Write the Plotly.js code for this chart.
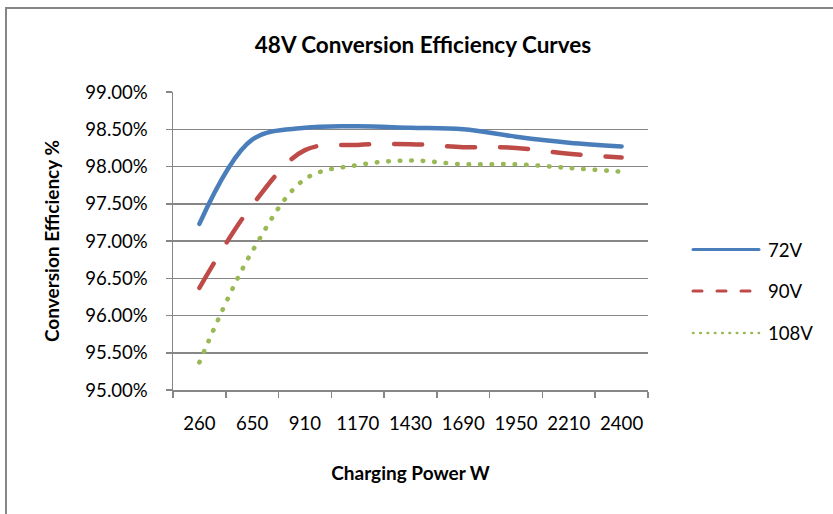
<!DOCTYPE html>
<html>
<head>
<meta charset="utf-8">
<script src="https://cdn.plot.ly/plotly-3.0.1.min.js"></script>
<style>
  html, body { margin: 0; padding: 0; background: #fff; }
  #chart { width: 833px; height: 514px; }
  .scatterlayer .js-line { stroke-linecap: round; }
  .shapelayer path { stroke-linecap: round; }
</style>
</head>
<body>
<div id="chart"></div>
<script>
// Charging power categories (W)
const categories = ['260', '650', '910', '1170', '1430', '1690', '1950', '2210', '2400'];
// Conversion efficiency (%) per input voltage
const eff72V  = [97.23, 98.36, 98.52, 98.54, 98.52, 98.50, 98.40, 98.32, 98.27];
const eff90V  = [96.37, 97.48, 98.22, 98.29, 98.30, 98.26, 98.25, 98.17, 98.12];
const eff108V = [95.37, 96.86, 97.83, 98.02, 98.08, 98.03, 98.03, 97.98, 97.93];
const seriesNames = ['72V', '90V', '108V'];
const yTicks = [95.0, 95.5, 96.0, 96.5, 97.0, 97.5, 98.0, 98.5, 99.0];

const colors = ['#4A7EBB', '#BE4B48', '#98B954'];
const FONT = 'Lato, "Open Sans", sans-serif';
const FS = 18.6;

const traces = [
  { x: categories, y: eff72V, name: seriesNames[0], type: 'scatter', mode: 'lines',
    line: { color: colors[0], width: 4.5, shape: 'spline', smoothing: 1 } },
  { x: categories, y: eff90V, name: seriesNames[1], type: 'scatter', mode: 'lines',
    line: { color: colors[1], width: 4.5, shape: 'spline', smoothing: 1, dash: '28px,25px' } },
  { x: categories, y: eff108V, name: seriesNames[2], type: 'scatter', mode: 'lines',
    line: { color: colors[2], width: 4.6, shape: 'spline', smoothing: 1, dash: '0.5px,11px' } }
];

// Plot area in pixels: left 173, right 648, top 92, bottom 390
const L = 173, R = 648, T = 92, B = 390;
const W = R - L, H = B - T;
const px = v => (v - L) / W;
const py = v => (B - v) / H;

const legendRows = [249.5, 291, 333];
const legendDash = ['solid', '9px,15px', '0.5px,6.8px'];
const legendWidth = [3, 3, 2.6];

const shapes = [
  // outer chart border
  { type: 'rect', xref: 'paper', yref: 'paper',
    x0: px(6), x1: px(845), y0: py(8), y1: py(530),
    line: { color: '#868686', width: 2 }, fillcolor: 'rgba(0,0,0,0)', layer: 'below' }
];
const annotations = [];
seriesNames.forEach((n, i) => {
  shapes.push({ type: 'line', xref: 'paper', yref: 'paper',
    x0: px(693), x1: px(759), y0: py(legendRows[i]), y1: py(legendRows[i]),
    line: { color: colors[i], width: legendWidth[i], dash: legendDash[i] } });
  annotations.push({ xref: 'paper', yref: 'paper', x: px(766), y: py(legendRows[i]),
    xanchor: 'left', yanchor: 'middle', showarrow: false, text: n,
    font: { family: FONT, size: FS, color: '#000' } });
});

const layout = {
  width: 833, height: 514,
  paper_bgcolor: '#fff', plot_bgcolor: '#fff',
  margin: { l: L, r: 833 - R, t: T, b: 514 - B, pad: 0 },
  showlegend: false,
  title: { text: '<b>48V Conversion Efficiency Curves</b>',
    font: { family: FONT, size: 22.5, color: '#000' },
    x: 423 / 833, xref: 'container', xanchor: 'center',
    y: 1 - 45 / 514, yref: 'container', yanchor: 'middle' },
  xaxis: {
    type: 'category', range: [-0.5, 8.5], fixedrange: true,
    tickson: 'boundaries', ticks: 'outside', ticklen: 6, tickwidth: 1.5, tickcolor: '#868686',
    showline: true, linecolor: '#868686', linewidth: 1.5,
    showgrid: false, zeroline: false, tickangle: 0,
    tickfont: { family: FONT, size: FS, color: '#000' },
    ticklabelstandoff: 16,
    automargin: false,
    title: { text: '<b>Charging Power W</b>', font: { family: FONT, size: 19, color: '#000' }, standoff: 34 }
  },
  yaxis: {
    range: [95, 99], fixedrange: true,
    tickmode: 'array', tickvals: yTicks, ticktext: yTicks.map(v => v.toFixed(2) + '%'),
    ticks: 'outside', ticklen: 6, tickwidth: 1.5, tickcolor: '#868686',
    showline: true, linecolor: '#868686', linewidth: 1.5,
    showgrid: true, gridcolor: '#868686', gridwidth: 1.5, zeroline: false,
    tickfont: { family: FONT, size: FS, color: '#000' },
    ticklabelstandoff: 14,
    automargin: false,
    title: { text: '<b>Conversion Efficiency %</b>', font: { family: FONT, size: 19, color: '#000' }, standoff: 20 }
  },
  shapes: shapes,
  annotations: annotations
};

Plotly.newPlot('chart', traces, layout, { displayModeBar: false, staticPlot: true });
</script>
</body>
</html>
